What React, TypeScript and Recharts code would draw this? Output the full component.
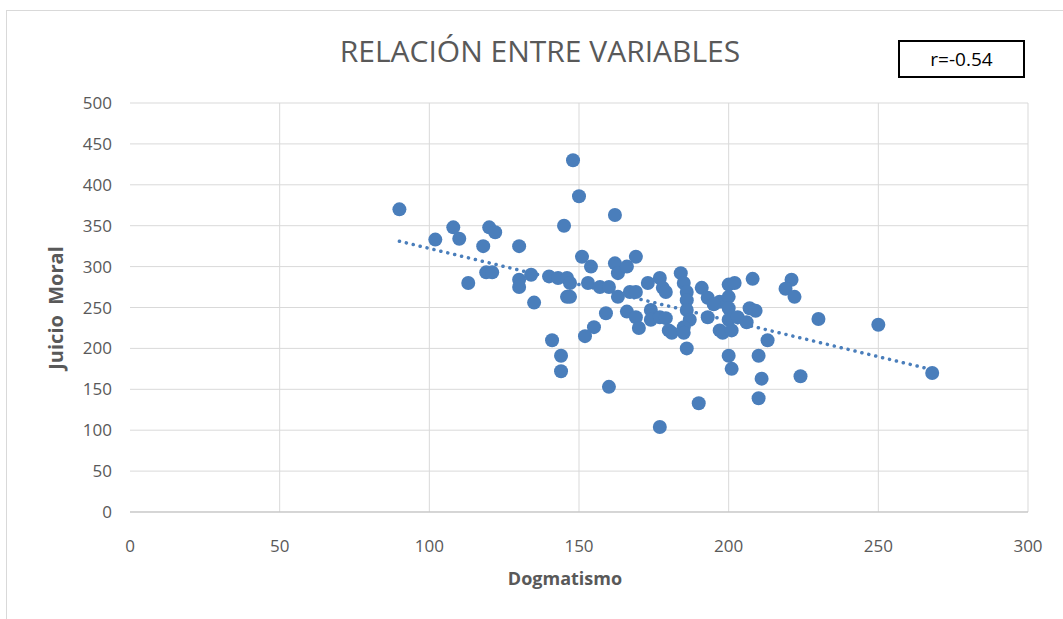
import { ScatterChart, Scatter, XAxis, YAxis, CartesianGrid, ReferenceLine } from "recharts";

// Dogmatismo (x) y Juicio Moral (y)
const dogmatismo = [
  90, 102, 108, 110, 113, 118, 120, 122, 119, 121, 130, 130, 130, 134, 135, 140, 143, 146, 147, 146,
  147, 148, 150, 145, 151, 154, 162, 162, 163, 166, 169, 153, 157, 160, 163, 159, 167, 169, 141, 144,
  144, 155, 152, 160, 173, 177, 178, 179, 166, 169, 170, 174, 174, 177, 179, 180, 181, 184, 185, 186,
  186, 186, 187, 185, 185, 186, 190, 177, 191, 193, 193, 197, 197, 198, 200, 202, 200, 200, 200, 201,
  203, 200, 201, 208, 207, 209, 206, 210, 211, 210, 213, 221, 219, 222, 230, 250, 224, 268, 195,
];
const juicioMoral = [
  370, 333, 348, 334, 280, 325, 348, 342, 293, 293, 325, 284, 275, 290, 256, 288, 286, 286, 280, 263,
  263, 430, 386, 350, 312, 300, 363, 304, 292, 300, 312, 280, 275, 275, 263, 243, 269, 269, 210, 191,
  172, 226, 215, 153, 280, 286, 274, 269, 245, 238, 225, 247, 235, 238, 237, 222, 219, 292, 280, 269,
  259, 247, 235, 226, 219, 200, 133, 104, 274, 262, 238, 257, 222, 219, 278, 280, 263, 249, 235, 222,
  238, 191, 175, 285, 249, 246, 232, 191, 163, 139, 210, 284, 273, 263, 236, 229, 166, 170, 254,
];

// línea de tendencia (extremos)
const trendX = [90, 268];
const trendY = [331, 174];

const xTicks = [0, 50, 100, 150, 200, 250, 300];
const yTicks = [0, 50, 100, 150, 200, 250, 300, 350, 400, 450, 500];

const points = dogmatismo.map((x, i) => ({ x, y: juicioMoral[i] }));

const COLOR = "#4a7ebb";
const TEXT = "#595959";
const FONT = "'Liberation Sans Narrow', 'Open Sans', sans-serif";

const Dot = (props: any) => <circle cx={props.cx} cy={props.cy} r={7} fill={COLOR} />;

export default function App() {
  return (
    <div style={{ position: "absolute", left: 0, top: 0, width: 1063, height: 619, background: "#fff", fontFamily: FONT, overflow: "hidden" }}>
      <div style={{ position: "absolute", left: 6, top: 10, width: 1100, height: 700, borderLeft: "1px solid #d9d9d9", borderTop: "1px solid #d9d9d9" }} />
      <ScatterChart width={1063} height={619} margin={{ top: 103, right: 35, left: 70, bottom: 67 }}>
        <CartesianGrid
          stroke="#d9d9d9"
          strokeWidth={1}
          verticalCoordinatesGenerator={(p: any) =>
            xTicks.slice(1).map((t) => p.offset.left + (t / 300) * p.offset.width)
          }
        />
        <XAxis
          type="number"
          dataKey="x"
          domain={[0, 300]}
          ticks={xTicks}
          height={40}
          tickLine={false}
          axisLine={{ stroke: "#bfbfbf" }}
          tick={{ fill: TEXT, fontSize: 17, fontFamily: FONT }}
          tickMargin={22}
        />
        <YAxis
          type="number"
          dataKey="y"
          domain={[0, 500]}
          ticks={yTicks}
          width={60}
          tickLine={false}
          axisLine={false}
          tick={{ fill: TEXT, fontSize: 17, fontFamily: FONT }}
          tickMargin={12}
        />
        <Scatter data={points} shape={Dot} isAnimationActive={false} />
        <ReferenceLine
          segment={[{ x: trendX[0], y: trendY[0] }, { x: trendX[1], y: trendY[1] }]}
          stroke={COLOR}
          strokeWidth={3.5}
          strokeDasharray="0.1 7"
          strokeLinecap="round"
        />
      </ScatterChart>
      <div style={{ position: "absolute", left: 0, width: 1080, top: 30, textAlign: "center", fontSize: 30, color: TEXT }}>
        RELACIÓN ENTRE VARIABLES
      </div>
      <div style={{ position: "absolute", left: 898, top: 40, width: 123, height: 34, border: "2px solid #000", display: "flex", alignItems: "center", justifyContent: "center", fontSize: 19, color: "#000" }}>
        r=-0.54
      </div>
      <div style={{ position: "absolute", left: 465, width: 200, top: 566, textAlign: "center", fontSize: 18, fontWeight: "bold", color: TEXT }}>
        Dogmatismo
      </div>
      <div style={{ position: "absolute", left: 55, top: 308, transform: "translate(-50%, -50%) rotate(-90deg)", whiteSpace: "pre", fontSize: 20, fontWeight: "bold", color: TEXT }}>
        {"Juicio  Moral"}
      </div>
    </div>
  );
}
